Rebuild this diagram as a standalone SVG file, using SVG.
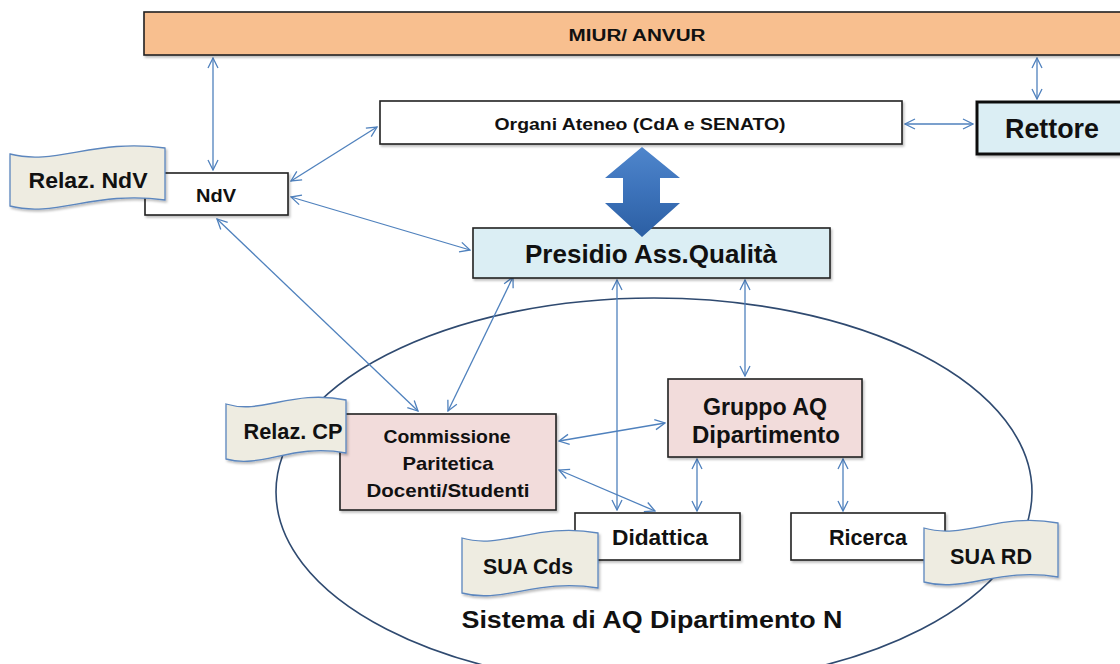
<svg xmlns="http://www.w3.org/2000/svg" width="1120" height="664" viewBox="0 0 1120 664">
<style>
.t{font-family:"Liberation Sans",Arial,sans-serif;font-weight:bold;fill:#111;text-anchor:middle}
.box{stroke:#222;stroke-width:1.6}
.doc{fill:#EEECE1;stroke:#5B86BE;stroke-width:1.3}
.c{fill:none;stroke:#4F81BD;stroke-width:1.3;marker-start:url(#ah);marker-end:url(#ah)}
</style>
<defs>
<marker id="ah" viewBox="0 0 12 12" refX="11" refY="6" markerWidth="12" markerHeight="12" markerUnits="userSpaceOnUse" orient="auto-start-reverse">
<path d="M1,1 L11,6 L1,11" fill="none" stroke="#4F81BD" stroke-width="1.3"/>
</marker>
<linearGradient id="bg" x1="0" y1="0" x2="0" y2="1">
<stop offset="0" stop-color="#4F86CC"/>
<stop offset="0.5" stop-color="#3C72BA"/>
<stop offset="1" stop-color="#2C5FA3"/>
</linearGradient>
<filter id="sh" x="-10%" y="-10%" width="130%" height="140%">
<feDropShadow dx="1.5" dy="2" stdDeviation="1.2" flood-color="#000" flood-opacity="0.25"/>
</filter>
</defs>
<rect width="1120" height="664" fill="#fff"/>

<g id="ellipse-sistema">
<ellipse cx="654" cy="492" rx="378" ry="194" fill="none" stroke="#2F4A70" stroke-width="1.6"/>
<text class="t" x="652" y="628" font-size="24" textLength="381" lengthAdjust="spacingAndGlyphs">Sistema di AQ Dipartimento N</text>
</g>

<g id="connectors">
<line class="c" x1="213" y1="58" x2="213" y2="170"/>
<line class="c" x1="1037" y1="58" x2="1037" y2="99"/>
<line class="c" x1="905" y1="124" x2="973" y2="124"/>
<line class="c" x1="291" y1="181" x2="377" y2="127"/>
<line class="c" x1="291" y1="197" x2="470" y2="250"/>
<line class="c" x1="217" y1="219" x2="418" y2="411"/>
<line class="c" x1="513" y1="277" x2="448" y2="411"/>
<line class="c" x1="617" y1="280" x2="617" y2="510"/>
<line class="c" x1="745" y1="280" x2="745" y2="376"/>
<line class="c" x1="559" y1="441" x2="665" y2="423"/>
<line class="c" x1="559" y1="470" x2="655" y2="511"/>
<line class="c" x1="697" y1="459" x2="697" y2="511"/>
<line class="c" x1="843" y1="459" x2="843" y2="511"/>
</g>

<g id="miur">
<rect class="box" x="144" y="12" width="990" height="43" fill="#F8BF8F" filter="url(#sh)"/>
<text class="t" x="637" y="41" font-size="16" textLength="137" lengthAdjust="spacingAndGlyphs">MIUR/ ANVUR</text>
</g>

<g id="organi">
<rect class="box" x="380" y="101" width="522" height="43" fill="#fff" filter="url(#sh)"/>
<text class="t" x="640" y="130" font-size="16" textLength="291" lengthAdjust="spacingAndGlyphs">Organi Ateneo (CdA e SENATO)</text>
</g>

<g id="rettore">
<rect x="977" y="102" width="150" height="52" fill="#DBEEF4" stroke="#111" stroke-width="3" filter="url(#sh)"/>
<text class="t" x="1052" y="138" font-size="28" textLength="94" lengthAdjust="spacingAndGlyphs">Rettore</text>
</g>

<g id="ndv">
<rect class="box" x="145" y="173" width="143" height="42" fill="#fff" filter="url(#sh)"/>
<text class="t" x="216" y="202" font-size="19" textLength="40" lengthAdjust="spacingAndGlyphs">NdV</text>
</g>

<g id="relaz-ndv">
<path class="doc" filter="url(#sh)" transform="translate(10,146)" d="M0,8 C46,20 85,-8 155,2 L155,54 C85,44 46,72 0,60 Z"/>
<text class="t" x="88" y="188" font-size="22" textLength="119" lengthAdjust="spacingAndGlyphs">Relaz. NdV</text>
</g>

<g id="presidio">
<rect class="box" x="473" y="228" width="357" height="50" fill="#DBEEF4" stroke-width="2" filter="url(#sh)"/>
<text class="t" x="651" y="263" font-size="25" textLength="252" lengthAdjust="spacingAndGlyphs">Presidio Ass.Qualità</text>
</g>

<g id="big-arrow">
<path d="M642,147 L680,178 L660,178 L660,203 L680,203 L642,237 L605,203 L623,203 L623,178 L605,178 Z" fill="url(#bg)"/>
</g>

<g id="commissione">
<rect class="box" x="340" y="414" width="216" height="96" fill="#F2DCDB" filter="url(#sh)"/>
<text class="t" x="447" y="443" font-size="19" textLength="127" lengthAdjust="spacingAndGlyphs">Commissione</text>
<text class="t" x="448" y="470" font-size="19" textLength="91" lengthAdjust="spacingAndGlyphs">Paritetica</text>
<text class="t" x="448" y="497" font-size="19" textLength="163" lengthAdjust="spacingAndGlyphs">Docenti/Studenti</text>
</g>

<g id="relaz-cp">
<path class="doc" filter="url(#sh)" transform="translate(226,397)" d="M0,7 C36,18 66,-8 120,3 L120,56 C66,46 36,72 0,62 Z"/>
<text class="t" x="293" y="439" font-size="22" textLength="99" lengthAdjust="spacingAndGlyphs">Relaz. CP</text>
</g>

<g id="gruppo-aq">
<rect class="box" x="668" y="379" width="194" height="78" fill="#F2DCDB" filter="url(#sh)"/>
<text class="t" x="765" y="415" font-size="23" textLength="124" lengthAdjust="spacingAndGlyphs">Gruppo AQ</text>
<text class="t" x="766" y="443" font-size="23" textLength="148" lengthAdjust="spacingAndGlyphs">Dipartimento</text>
</g>

<g id="didattica">
<rect class="box" x="575" y="513" width="165" height="47" fill="#fff" filter="url(#sh)"/>
<text class="t" x="660" y="545" font-size="22" textLength="96" lengthAdjust="spacingAndGlyphs">Didattica</text>
</g>

<g id="ricerca">
<rect class="box" x="791" y="513" width="154" height="47" fill="#fff" filter="url(#sh)"/>
<text class="t" x="868" y="545" font-size="22" textLength="78" lengthAdjust="spacingAndGlyphs">Ricerca</text>
</g>

<g id="sua-cds">
<path class="doc" filter="url(#sh)" transform="translate(462,530)" d="M0,8 C40,20 75,-8 136,3 L136,58 C75,48 40,74 0,63 Z"/>
<text class="t" x="528" y="574" font-size="22" textLength="90" lengthAdjust="spacingAndGlyphs">SUA Cds</text>
</g>

<g id="sua-rd">
<path class="doc" filter="url(#sh)" transform="translate(924,520)" d="M0,8 C40,20 75,-8 134,3 L134,57 C75,47 40,73 0,62 Z"/>
<text class="t" x="991" y="564" font-size="22" textLength="82" lengthAdjust="spacingAndGlyphs">SUA RD</text>
</g>
</svg>
